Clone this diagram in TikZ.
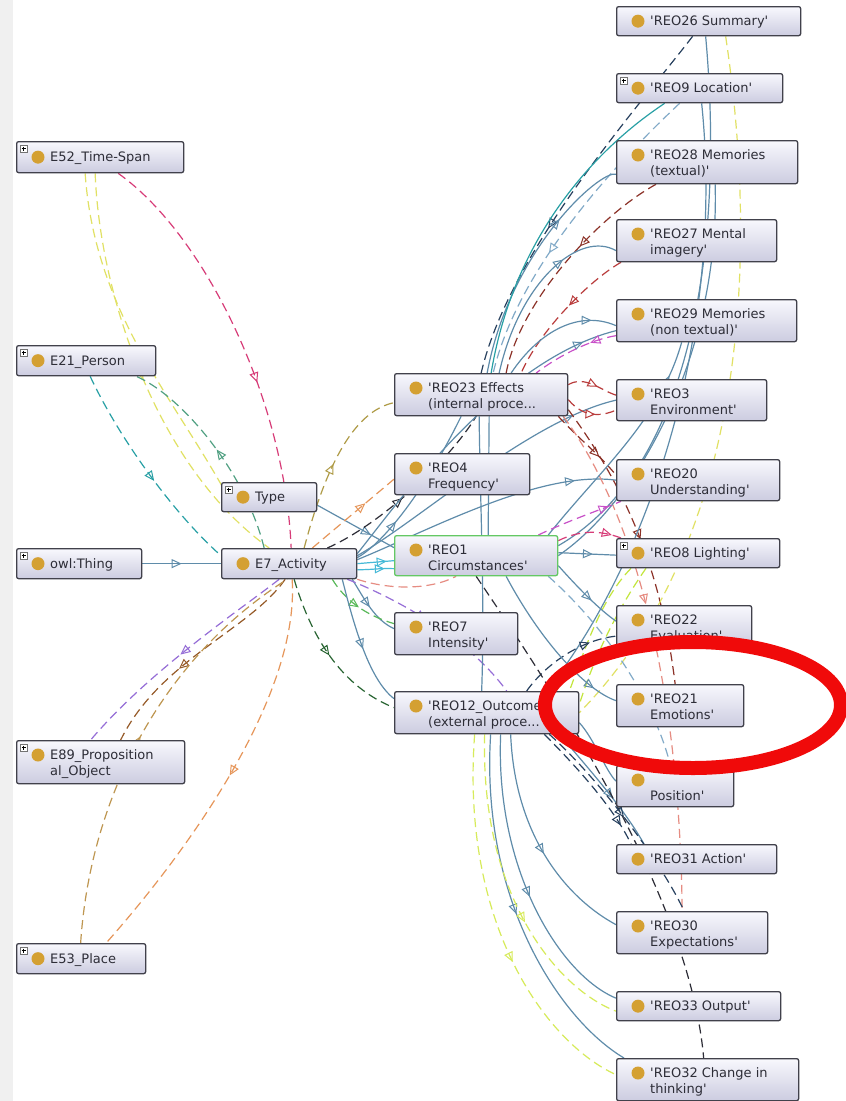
\documentclass[tikz,border=0pt]{standalone}
\usepackage{fontspec}
\setmainfont{DejaVu Sans}
\usetikzlibrary{calc,arrows.meta,decorations.markings}
\pgfdeclarelayer{bg}
\pgfdeclarelayer{edges}
\pgfsetlayers{bg,edges,main}
\definecolor{isac}{RGB}{95,140,170}
\definecolor{cyanc}{RGB}{70,185,215}
\definecolor{pinkc}{RGB}{215,60,120}
\definecolor{yelc}{RGB}{225,225,100}
\definecolor{yelc2}{RGB}{215,235,90}
\definecolor{limec}{RGB}{195,230,60}
\definecolor{tealc}{RGB}{40,160,165}
\definecolor{gtealc}{RGB}{80,160,130}
\definecolor{purpc}{RGB}{150,110,215}
\definecolor{brownc}{RGB}{150,90,40}
\definecolor{tanc}{RGB}{190,150,80}
\definecolor{orangec}{RGB}{230,150,90}
\definecolor{olivec}{RGB}{175,155,70}
\definecolor{darkc}{RGB}{45,45,55}
\definecolor{navyc}{RGB}{40,65,95}
\definecolor{redc}{RGB}{185,60,60}
\definecolor{dredc}{RGB}{140,50,40}
\definecolor{salmonc}{RGB}{230,140,130}
\definecolor{magc}{RGB}{200,80,200}
\definecolor{lsteelc}{RGB}{130,170,200}
\definecolor{greenc}{RGB}{90,185,90}
\definecolor{dgreenc}{RGB}{40,100,50}
\definecolor{dotc}{RGB}{212,160,50}
\definecolor{txtc}{RGB}{45,45,55}
\definecolor{bordc}{RGB}{65,65,75}
\definecolor{topc}{RGB}{248,248,253}
\definecolor{botc}{RGB}{204,204,224}
\definecolor{greenb}{RGB}{100,200,100}
\definecolor{ringc}{RGB}{240,10,10}
\newcommand\q{\textquotesingle}
\tikzset{
  obox/.style={draw=bordc, line width=1.3pt, rounded corners=2pt, top color=topc, bottom color=botc, inner sep=0pt},
  lbl/.style={font=\fontsize{13}{15.5}\selectfont, text=txtc, inner sep=0pt, align=left},
  ed/.style={line width=1.2pt, dash pattern=on 9pt off 5pt},
  isa/.style={line width=1.2pt, draw=isac},
  ma/.style={postaction={decorate}, decoration={markings, mark=at position #1 with {\pgfsetdash{}{0pt}\arrow{Triangle[open,length=10pt,width=9pt,line width=1pt]}}}},
  ma/.default=0.5
}
\newcommand\oneline[7][]{%
  \node[obox,#1, minimum width=#5pt, minimum height=#6pt, anchor=north west] (#2) at (#3,#4) {};
  \fill[dotc] ($(#2.west)+(22,0)$) circle[radius=6.5pt];
  \node[lbl, anchor=base west] at ($(#2.west)+(34,4.5)$) {#7};
}
\newcommand\twoline[7][]{%
  \node[obox,#1, minimum width=#5pt, minimum height=#6pt, anchor=north west] (#2) at (#3,#4) {};
  \fill[dotc] ($(#2.north west)+(22,15)$) circle[radius=6.5pt];
  \node[lbl, anchor=north west] at ($(#2.north west)+(34,8.6)$) {\strut #7};
}
\newcommand\plusicon[1]{%
  \draw[black!55, fill=white, line width=0.5pt] ($(#1.north west)+(4,4)$) rectangle ($(#1.north west)+(11,11)$);
  \draw[black, line width=0.6pt] ($(#1.north west)+(5.5,7.5)$) -- ($(#1.north west)+(9.5,7.5)$) ($(#1.north west)+(7.5,5.5)$) -- ($(#1.north west)+(7.5,9.5)$);
}
\begin{document}
\begin{tikzpicture}[x=1pt,y=-1pt]
\useasboundingbox (0,0) rectangle (846,1101);
\begin{pgfonlayer}{bg}
\fill[white] (0,0) rectangle (846,1101);
\fill[black!6] (0,0) rectangle (13,1101);
\end{pgfonlayer}

% ---------- nodes ----------
\oneline{E52}{16}{141}{167}{31}{E52\_Time-Span}\plusicon{E52}
\oneline{E21}{16}{345}{139}{30}{E21\_Person}\plusicon{E21}
\oneline{Type}{221}{482}{95}{29}{Type}\plusicon{Type}
\oneline{owl}{16}{548}{125}{30}{owl:Thing}\plusicon{owl}
\oneline{E7}{221}{548}{135}{30}{E7\_Activity}
\twoline{E89}{16}{740}{168}{43}{E89\_Proposition\\al\_Object}\plusicon{E89}
\oneline{E53}{16}{943}{129}{30}{E53\_Place}\plusicon{E53}
\twoline{R23}{394}{373}{173}{42}{\q REO23 Effects\\(internal proce...}
\twoline{R4}{394}{453}{135}{41}{\q REO4\\Frequency\q}
\twoline[draw=greenb]{R1}{394}{535}{163}{40}{\q REO1\\Circumstances\q}
\twoline{R7}{394}{612}{123}{42}{\q REO7\\Intensity\q}
\twoline{R12}{394}{691}{184}{42}{\q REO12\_Outcome\\(external proce...}
\oneline{R26}{616}{6}{184}{29}{\q REO26 Summary\q}
\oneline{R9}{616}{73}{166}{29}{\q REO9 Location\q}\plusicon{R9}
\twoline{R28}{616}{140}{181}{43}{\q REO28 Memories\\(textual)\q}
\twoline{R27}{616}{219}{160}{42}{\q REO27 Mental\\imagery\q}
\twoline{R29}{616}{299}{180}{42}{\q REO29 Memories\\(non textual)\q}
\twoline{R3}{616}{379}{150}{41}{\q REO3\\Environment\q}
\twoline{R20}{616}{459}{163}{41}{\q REO20\\Understanding\q}
\oneline{R8}{616}{538}{163}{29}{\q REO8 Lighting\q}\plusicon{R8}
\twoline{R22}{616}{605}{135}{41}{\q REO22\\Evaluation\q}
\twoline{R21}{616}{684}{127}{42}{\q REO21\\Emotions\q}
\twoline{POS}{616}{765}{117}{41}{\mbox{}\\Position\q}
\oneline{R31}{616}{844}{160}{29}{\q REO31 Action\q}
\twoline{R30}{616}{911}{151}{42}{\q REO30\\Expectations\q}
\oneline{R33}{616}{991}{164}{29}{\q REO33 Output\q}
\twoline{R32}{616}{1058}{182}{42}{\q REO32 Change in\\thinking\q}

% ---------- edges ----------
\begin{pgfonlayer}{edges}
% left part
\draw[isa,ma] (owl.east) -- (E7.west);
\draw[ed,pinkc,ma=0.6] ($(E52.south)+(18,0)$) .. controls (205,235) and (285,400) .. ($(E7.north)+(2,0)$);
\draw[ed,yelc,ma=0.5] ($(E52.south)+(-5,0)$) .. controls (100,300) and (160,470) .. ($(E7.north)+(-20,0)$);
\draw[ed,yelc] ($(E52.south)+(-15,0)$) .. controls (95,320) and (185,410) .. ($(Type.south west)+(15,0)$);
\draw[ed,tealc,ma=0.55] ($(E21.south)+(4,0)$) .. controls (120,440) and (175,515) .. ($(E7.west)+(0,-8)$);
\draw[ed,gtealc,ma=0.5] ($(E7.north)+(-25,0)$) .. controls (245,470) and (180,395) .. ($(E21.south)+(50,0)$);
\draw[ed,purpc,ma=0.5] ($(E7.south)+(-10,0)$) .. controls (240,610) and (150,670) .. ($(E89.north)+(-10,0)$);
\draw[ed,brownc,ma=0.6] ($(E7.south)+(-4,0)$) .. controls (250,630) and (160,660) .. ($(E89.north)+(20,0)$);
\draw[ed,tanc,ma=0.5] ($(E53.north)+(-0.5,0)$) .. controls (90,800) and (160,660) .. ($(E7.south)+(-2,0)$);
\draw[ed,orangec,ma=0.5] ($(E7.south)+(3,0)$) .. controls (300,700) and (180,860) .. ($(E53.north)+(25,0)$);
% middle
\draw[isa,ma=0.7] ($(Type.east)+(0,8)$) -- ($(R1.west)+(0,-8)$);
\draw[ed,olivec,ma=0.5] ($(E7.north)+(15,0)$) .. controls (330,450) and (360,410) .. ($(R23.west)+(0,8)$);
\draw[ed,orangec,ma=0.65] ($(E7.north east)+(-45,0)$) -- ($(R4.west)+(0,5)$);
\draw[ed,darkc,ma=0.45] ($(E7.north east)+(-30,0)$) .. controls (380,525) and (450,460) .. ($(R23.south)+(-5,0)$);
\draw[line width=1.2pt,cyanc,ma=0.8] (E7.east) -- ($(R1.west)+(0,5)$);
\draw[line width=1.2pt,cyanc,ma=0.75] ($(E7.east)+(0,6)$) .. controls (370,570) and (380,568) .. ($(R1.west)+(0,13)$);
\draw[isa,ma=0.3] ($(E7.east)+(0,-6)$) .. controls (380,545) and (420,500) .. ($(R23.south)+(-20,0)$);
\draw[isa,ma=0.85] ($(E7.east)+(0,-8)$) .. controls (420,520) and (530,420) .. (R3.west);
\draw[isa,ma=0.85] ($(E7.east)+(0,-4)$) .. controls (430,530) and (540,470) .. (R20.west);
\draw[isa,ma=0.9] ($(E7.east)+(0,-10)$) .. controls (400,500) and (500,360) .. ($(R29.west)+(0,10)$);
\draw[isa,ma=0.5] ($(E7.south east)+(-5,0)$) .. controls (365,600) and (375,620) .. ($(R7.west)+(0,-5)$);
\draw[ed,greenc,ma=0.5] ($(E7.south east)+(-25,0)$) .. controls (345,600) and (365,615) .. ($(R7.west)+(0,-10)$);
\draw[ed,dgreenc,ma=0.5] ($(E7.south)+(5,0)$) .. controls (315,650) and (350,690) .. ($(R12.west)+(0,-5)$);
\draw[isa,ma=0.55] ($(E7.south east)+(-15,0)$) .. controls (355,630) and (370,680) .. ($(R12.west)+(0,-14)$);
\draw[ed,purpc,ma=0.45] ($(E7.south east)+(-10,0)$) .. controls (400,600) and (470,640) .. ($(R12.north)+(20,0)$);
\draw[ed,salmonc] (E7.south east) .. controls (390,590) and (430,590) .. ($(R1.south)+(-20,0)$);
% REO23 verticals
\draw[isa] ($(R23.south)+(-2,0)$) .. controls (480,500) and (485,600) .. ($(R12.north)+(-5,0)$);
\draw[isa] ($(R23.south)+(8,0)$) -- ($(R1.north)+(12,0)$);
% upper fan
\draw[ed,navyc,ma=0.6] ($(R26.south)+(-16,0)$) .. controls (640,105) and (510,250) .. (R23.north);
\draw[ed,lsteelc,ma=0.6] ($(R9.south)+(-20,0)$) .. controls (630,150) and (520,260) .. ($(R23.north)+(12,0)$);
\draw[ed,dredc,ma=0.4] ($(R28.south west)+(40,0)$) .. controls (600,215) and (520,300) .. ($(R23.north)+(25,0)$);
\draw[ed,redc,ma=0.45] ($(R27.south west)+(5,0)$) .. controls (590,280) and (540,330) .. ($(R23.north)+(40,0)$);
\draw[ed,magc,ma=0.3] ($(R29.west)+(0,15)$) .. controls (590,340) and (560,355) .. ($(R23.north)+(55,0)$);
\draw[ed,redc,ma=0.6] ($(R23.east)+(0,-10)$) .. controls (585,375) and (600,390) .. ($(R3.west)+(0,-5)$);
\draw[ed,redc,ma=0.6] ($(R23.east)+(0,5)$) .. controls (585,420) and (605,415) .. ($(R3.west)+(0,10)$);
\draw[ed,dredc,ma=0.7] ($(R23.south east)+(-10,0)$) .. controls (580,440) and (600,455) .. ($(R20.west)+(0,-5)$);
\draw[ed,salmonc,ma=0.4] ($(R23.south east)+(-5,0)$) .. controls (640,520) and (680,700) .. ($(R30.north)+(-10,0)$);
\draw[ed,dredc,ma=0.5] ($(R23.east)+(0,15)$) .. controls (620,480) and (660,560) .. ($(R21.north)+(-5,0)$);
\draw[isa,ma=0.7] ($(R23.north)+(18,0)$) .. controls (520,280) and (580,230) .. ($(R27.west)+(0,10)$);
\draw[isa,ma=0.8] ($(R23.north)+(30,0)$) .. controls (540,330) and (580,310) .. ($(R29.west)+(0,5)$);
\draw[isa,ma=0.7] ($(R23.north)+(6,0)$) .. controls (510,250) and (600,170) .. ($(R28.west)+(0,12)$);
\draw[line width=1.2pt,tealc] ($(R23.north)+(10,0)$) .. controls (520,200) and (640,120) .. ($(R9.south)+(-35,0)$);
% long verticals
\draw[isa,ma=0.55] ($(R26.south)+(-3,0)$) .. controls (725,250) and (690,470) .. ($(R1.east)+(0,-10)$);
\draw[isa,ma=0.5] ($(R9.south)+(2,0)$) .. controls (725,330) and (650,560) .. ($(R12.north)+(60,0)$);
\draw[isa] ($(R28.south)+(8,0)$) .. controls (720,350) and (640,500) .. (R1.east);
\draw[isa,ma=0.85] ($(R1.north east)+(-10,0)$) .. controls (600,470) and (660,420) .. ($(R29.south)+(-25,0)$);
\draw[ed,yelc] ($(R26.south)+(17,0)$) .. controls (765,300) and (730,560) .. (R12.east);
% middle right
\draw[isa,ma=0.6] ($(R1.east)+(0,-3)$) -- ($(R8.west)+(0,2)$);
\draw[ed,magc,ma=0.85] ($(R1.north east)+(-20,0)$) .. controls (570,520) and (600,510) .. ($(R20.south west)+(5,0)$);
\draw[ed,pinkc,ma=0.85] ($(R1.east)+(0,-15)$) .. controls (580,530) and (600,530) .. ($(R8.north west)+(5,0)$);
\draw[ed,limec] ($(R8.south west)+(30,0)$) .. controls (610,620) and (590,670) .. ($(R12.east)+(0,-8)$);
\draw[ed,limec] ($(R8.south west)+(15,0)$) .. controls (600,600) and (585,650) .. ($(R12.north east)+(-10,0)$);
\draw[ed,navyc,ma=0.75] ($(R12.north)+(40,0)$) .. controls (545,665) and (580,640) .. ($(R22.west)+(0,10)$);
\draw[isa,ma=0.85] ($(R1.south)+(30,0)$) .. controls (540,640) and (585,690) .. ($(R21.west)+(0,-5)$);
\draw[ed,lsteelc] ($(R1.south east)+(-10,0)$) .. controls (620,640) and (660,720) .. ($(POS.north)+(-5,0)$);
\draw[isa,ma=0.6] ($(R1.east)+(0,10)$) .. controls (580,590) and (600,610) .. ($(R22.west)+(0,-5)$);
% lower fan
\draw[isa,ma=0.5] ($(R12.south)+(4,0)$) .. controls (480,900) and (560,1020) .. ($(R32.north west)+(8,0)$);
\draw[isa,ma=0.55] ($(R12.south)+(14,0)$) .. controls (495,870) and (560,975) .. ($(R33.west)+(0,-8)$);
\draw[isa,ma=0.55] ($(R12.south)+(24,0)$) .. controls (515,840) and (570,900) .. ($(R30.west)+(0,-8)$);
\draw[ed,yelc2,ma=0.6] ($(R12.south)+(-12,0)$) .. controls (460,930) and (550,1045) .. ($(R32.west)+(0,-5)$);
\draw[ed,yelc2,ma=0.6] ($(R12.south)+(-2,0)$) .. controls (480,900) and (560,990) .. ($(R33.west)+(0,5)$);
\draw[ed,navyc,ma=0.85] ($(R12.south east)+(-35,0)$) .. controls (580,770) and (615,810) .. ($(R31.north west)+(15,0)$);
\draw[isa,ma=0.6] ($(R12.south east)+(-20,0)$) .. controls (590,770) and (625,810) .. ($(R31.north west)+(28,0)$);
\draw[ed,darkc] (R1.south) .. controls (560,700) and (690,900) .. ($(R32.north)+(-4,0)$);
\draw[ed,navyc,ma=0.5] ($(R12.south east)+(-30,0)$) .. controls (600,780) and (660,860) .. ($(R30.north)+(-8,0)$);
\draw[isa,ma=0.6] ($(R12.east)+(0,10)$) .. controls (595,740) and (605,770) .. ($(POS.west)+(0,-5)$);
\end{pgfonlayer}

% ---------- red highlight ring ----------
\draw[ringc, line width=14pt] (693,705) ellipse [x radius=148pt, y radius=63pt];
\end{tikzpicture}
\end{document}
